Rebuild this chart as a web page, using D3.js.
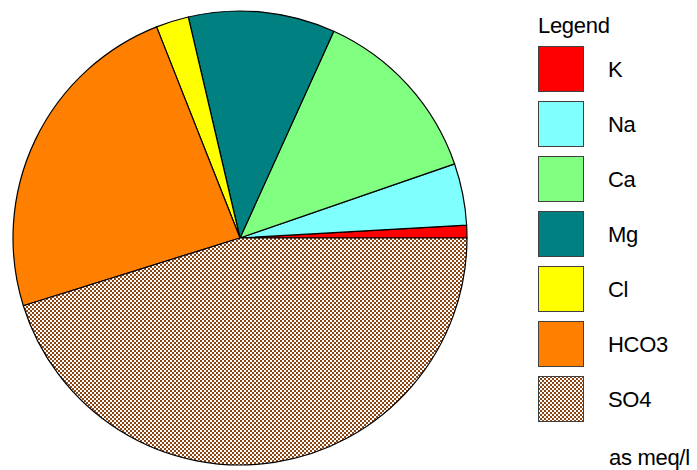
<!DOCTYPE html>
<html>
<head>
<meta charset="utf-8">
<script src="https://cdn.jsdelivr.net/npm/d3@7"></script>
<style>
  html, body { margin: 0; padding: 0; background: #ffffff; }
  svg { display: block; }
  text { font-family: "Liberation Sans", Arial, sans-serif; fill: #000; }
</style>
</head>
<body>
<svg id="chart" width="697" height="470"></svg>
<script>
// Ion composition (share of total, meq/l basis)
const ions = ["K", "Na", "Ca", "Mg", "Cl", "HCO3", "SO4"];
const values = [0.91, 4.38, 12.93, 10.44, 2.33, 23.83, 45.18];
const fills = ["#ff0000", "#80ffff", "#80ff80", "#008080", "#ffff00", "#ff8000", "url(#checker)"];
const legendTitle = "Legend";
const unitNote = "as meq/l";

const svg = d3.select("#chart");

// brown checker fill used for sulphate
const defs = svg.append("defs");
const pat = defs.append("pattern")
  .attr("id", "checker")
  .attr("patternUnits", "userSpaceOnUse")
  .attr("width", 4).attr("height", 4);
pat.append("rect").attr("width", 4).attr("height", 4).attr("fill", "#8b4513");
pat.append("rect").attr("x", 0).attr("y", 0).attr("width", 2).attr("height", 2).attr("fill", "#ffffff");
pat.append("rect").attr("x", 2).attr("y", 2).attr("width", 2).attr("height", 2).attr("fill", "#ffffff");

const data = ions.map((name, i) => ({ name, value: values[i], fill: fills[i] }));

// slices run counter-clockwise starting at 3 o'clock
const pie = d3.pie()
  .sort(null)
  .value(d => d.value)
  .startAngle(Math.PI / 2)
  .endAngle(Math.PI / 2 - 2 * Math.PI);

const radius = 227;
const arc = d3.arc().innerRadius(0).outerRadius(radius);

const g = svg.append("g").attr("transform", "translate(240,238)");
g.selectAll("path.slice")
  .data(pie(data))
  .join("path")
  .attr("class", "slice")
  .attr("d", arc)
  .attr("fill", d => d.data.fill)
  .attr("stroke", "#000")
  .attr("stroke-width", 1.2)
  .attr("stroke-linejoin", "round");

// legend
const legend = svg.append("g");
legend.append("text")
  .attr("x", 538).attr("y", 33)
  .attr("font-size", 22)
  .attr("letter-spacing", -0.3)
  .text(legendTitle);

const color = d3.scaleOrdinal().domain(ions).range(fills);
const rowY = d3.scalePoint().domain(ions).range([46, 376]);

const rows = legend.selectAll("g.row")
  .data(ions)
  .join("g")
  .attr("class", "row")
  .attr("transform", d => `translate(0,${rowY(d)})`);

rows.append("rect")
  .attr("x", 538.5).attr("y", 0.5)
  .attr("width", 45).attr("height", 45)
  .attr("fill", d => color(d))
  .attr("stroke", "#404040")
  .attr("stroke-width", 1);

rows.append("text")
  .attr("x", 608).attr("y", 31)
  .attr("font-size", 22)
  .attr("letter-spacing", -0.3)
  .text(d => d);

legend.append("text")
  .attr("x", 609).attr("y", 465)
  .attr("font-size", 22)
  .attr("letter-spacing", -0.3)
  .text(unitNote);
</script>
</body>
</html>
